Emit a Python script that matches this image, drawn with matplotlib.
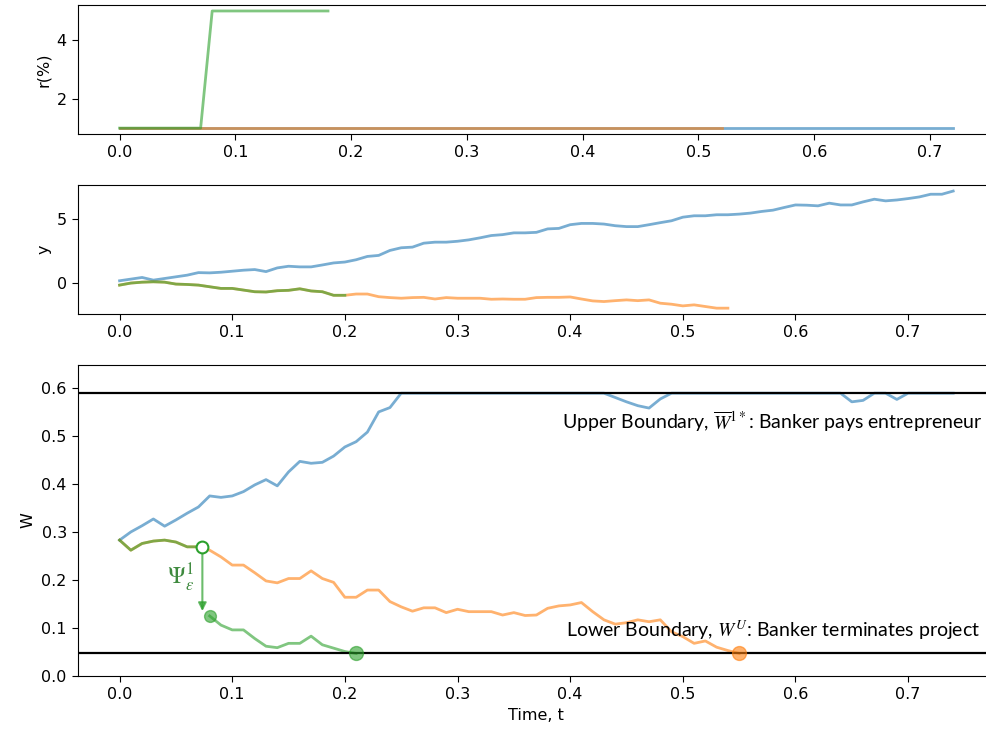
import numpy as np
import matplotlib.pyplot as plt

plt.rcParams['font.size'] = 11.5
plt.rcParams['xtick.major.size'] = 4
plt.rcParams['ytick.major.size'] = 4
plt.rcParams['xtick.major.pad'] = 4
plt.rcParams['ytick.major.pad'] = 4

# time grid for the simulated paths (dt = 0.01)
t_blue = np.arange(75) * 0.01
t_orange = np.arange(56) * 0.01

# interest rate paths, given by their corner points
r_blue_t = [0.0, 0.72]
r_blue = [1, 1]
r_orange_t = [0.0, 0.52]
r_orange = [1, 1]
r_green_t = [0.0, 0.07, 0.08, 0.18]
r_green = [1, 1, 5, 5]

# output process y
y_blue = [0.16, 0.29, 0.42, 0.21, 0.34, 0.47, 0.60, 0.80, 0.78, 0.83,
          0.91, 0.99, 1.04, 0.88, 1.17, 1.30, 1.25, 1.25, 1.40, 1.56,
          1.63, 1.81, 2.07, 2.15, 2.54, 2.75, 2.80, 3.11, 3.19, 3.19,
          3.26, 3.37, 3.53, 3.71, 3.78, 3.92, 3.92, 3.96, 4.23, 4.27,
          4.56, 4.66, 4.66, 4.61, 4.48, 4.41, 4.41, 4.56, 4.72, 4.87,
          5.15, 5.26, 5.26, 5.34, 5.34, 5.39, 5.47, 5.60, 5.70, 5.91,
          6.11, 6.09, 6.04, 6.25, 6.11, 6.11, 6.35, 6.56, 6.43, 6.50,
          6.61, 6.74, 6.95, 6.95, 7.20]
y_orange = [-0.18, -0.02, 0.05, 0.08, 0.05, -0.10, -0.13, -0.18, -0.31, -0.44,
            -0.44, -0.57, -0.70, -0.72, -0.62, -0.59, -0.47, -0.64, -0.70, -0.98,
            -0.98, -0.88, -0.88, -1.09, -1.16, -1.21, -1.16, -1.14, -1.27, -1.16,
            -1.21, -1.21, -1.21, -1.29, -1.27, -1.29, -1.29, -1.16, -1.14, -1.14,
            -1.11, -1.27, -1.42, -1.47, -1.40, -1.34, -1.40, -1.34, -1.60, -1.68,
            -1.81, -1.73, -1.86, -1.99, -1.99]
# green path shares the orange shocks until it stops at t = 0.20
y_green = y_orange[:21]

# continuation value W
w_blue = [0.283, 0.300, 0.313, 0.327, 0.312, 0.325, 0.339, 0.352, 0.375, 0.372,
          0.375, 0.384, 0.398, 0.409, 0.396, 0.425, 0.447, 0.443, 0.445, 0.458,
          0.477, 0.488, 0.508, 0.550, 0.559, 0.589, 0.589, 0.589, 0.589, 0.589,
          0.589, 0.589, 0.589, 0.589, 0.589, 0.589, 0.589, 0.589, 0.589, 0.589,
          0.589, 0.589, 0.589, 0.589, 0.580, 0.571, 0.563, 0.558, 0.577, 0.589,
          0.589, 0.589, 0.589, 0.589, 0.589, 0.589, 0.589, 0.589, 0.589, 0.589,
          0.589, 0.589, 0.589, 0.589, 0.589, 0.571, 0.574, 0.589, 0.589, 0.576,
          0.589, 0.589, 0.589, 0.589, 0.589]
w_orange = [0.283, 0.262, 0.276, 0.281, 0.283, 0.279, 0.269, 0.269, 0.262, 0.248,
            0.231, 0.231, 0.215, 0.198, 0.194, 0.203, 0.203, 0.219, 0.203, 0.195,
            0.164, 0.164, 0.179, 0.179, 0.155, 0.144, 0.135, 0.142, 0.142, 0.132,
            0.139, 0.134, 0.134, 0.134, 0.127, 0.132, 0.126, 0.127, 0.141, 0.146,
            0.148, 0.153, 0.134, 0.117, 0.108, 0.111, 0.117, 0.113, 0.117, 0.092,
            0.082, 0.068, 0.073, 0.060, 0.053, 0.047]
# green path after the rate jump
t_green_post = np.arange(8, 22) * 0.01
w_green_post = [0.125, 0.106, 0.096, 0.096, 0.078, 0.062, 0.059, 0.068, 0.068, 0.083,
                0.065, 0.058, 0.051, 0.047]
t_jump = 0.0735
w_jump = 0.269
w_jump_to = 0.135

W_upper = 0.589
W_lower = 0.047

c_blue = '#1f77b4'
c_orange = '#ff7f0e'
c_green = '#2ca02c'
a = 0.6
lw = 2

fig = plt.figure(figsize=(9.86, 7.32), dpi=100)
ax1 = fig.add_axes([0.079, 0.817, 0.930, 0.176])
ax2 = fig.add_axes([0.079, 0.571, 0.930, 0.176])
ax3 = fig.add_axes([0.079, 0.0765, 0.930, 0.425])

# interest rate
ax1.plot(r_blue_t, r_blue, color=c_blue, alpha=a, lw=lw)
ax1.plot(r_orange_t, r_orange, color=c_orange, alpha=a, lw=lw)
ax1.plot(r_green_t, r_green, color=c_green, alpha=a, lw=lw)
ax1.set_ylabel('r(%)')

# output
ax2.plot(t_blue, y_blue, color=c_blue, alpha=a, lw=lw)
ax2.plot(t_orange[:len(y_orange)], y_orange, color=c_orange, alpha=a, lw=lw)
ax2.plot(t_orange[:len(y_green)], y_green, color=c_green, alpha=a, lw=lw)
ax2.set_ylabel('y')

# continuation value with the two boundaries
ax3.plot(t_blue, w_blue, color=c_blue, alpha=a, lw=lw)
ax3.plot(t_orange, w_orange, color=c_orange, alpha=a, lw=lw)
ax3.plot(list(t_orange[:8]) + [t_jump], w_orange[:8] + [w_jump], color=c_green, alpha=a, lw=lw)
ax3.plot(t_green_post, w_green_post, color=c_green, alpha=a, lw=lw)
ax3.axhline(W_upper, color='k', lw=1.6, zorder=5)
ax3.axhline(W_lower, color='k', lw=1.6, zorder=5)

ax3.plot(t_jump, w_jump, 'o', ms=8.5, mfc='white', mec=c_green, mew=1.5, zorder=6)
ax3.annotate('', xy=(t_jump, w_jump_to), xytext=(t_jump, w_jump - 0.006),
             arrowprops=dict(arrowstyle='-|>', color=c_green, alpha=0.7, lw=1.5,
                             mutation_scale=12, shrinkA=0, shrinkB=0))
ax3.plot(t_green_post[0], w_green_post[0], 'o', ms=8.5, color=c_green, alpha=a, zorder=6)
ax3.plot(t_green_post[-1], w_green_post[-1], 'o', ms=10, color=c_green, alpha=a, zorder=6)
ax3.plot(t_orange[-1], w_orange[-1], 'o', ms=10, color=c_orange, alpha=a, zorder=6)

ax3.text(0.066, 0.205, r'$\Psi^1_\epsilon$', color='#3f8a3f', fontsize=17,
         ha='right', va='center', math_fontfamily='stix')
ax3.text(0.766, 0.514, r'Upper Boundary, $\overline{W}^{1*}$: Banker pays entrepreneur',
         family='Lato', fontsize=14, ha='right', va='baseline', math_fontfamily='stix')
ax3.text(0.764, 0.082, r'Lower Boundary, $W^U$: Banker terminates project',
         family='Lato', fontsize=14, ha='right', va='baseline', math_fontfamily='stix')

ax3.set_ylim(0, 1.1 * W_upper)
ax3.set_ylabel('W')
ax3.set_xlabel('Time, t')

plt.savefig('out.png', dpi=100)
